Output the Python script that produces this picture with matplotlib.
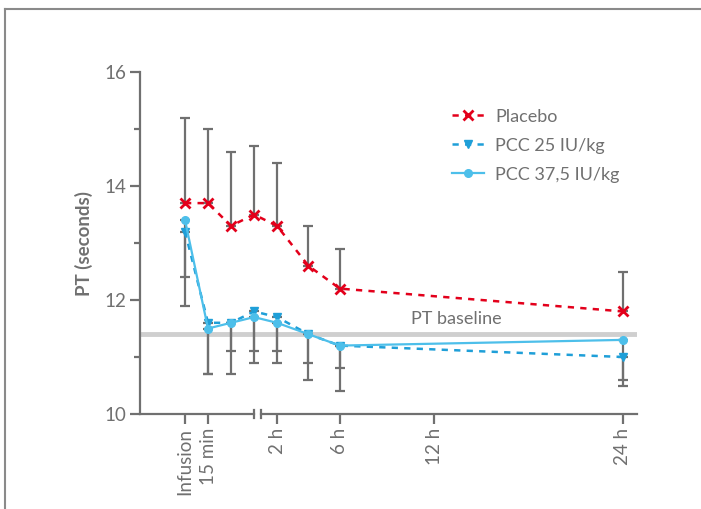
import numpy as np
import matplotlib.pyplot as plt
from matplotlib.lines import Line2D

plt.rcParams['font.family'] = ['Lato', 'DejaVu Sans']

# time points (hours)
hours = [0, 0.25, 0.5, 1, 2, 4, 6, 24]

placebo = [13.7, 13.7, 13.3, 13.5, 13.3, 12.6, 12.2, 11.8]
placebo_hi = [1.5, 1.3, 1.3, 1.2, 1.1, 0.7, 0.7, 0.7]

pcc25 = [13.2, 11.6, 11.6, 11.8, 11.7, 11.4, 11.2, 11.0]
pcc25_lo = [0.8, 0.9, 0.5, 0.7, 0.6, 0.5, 0.4, 0.4]

pcc375 = [13.4, 11.5, 11.6, 11.7, 11.6, 11.4, 11.2, 11.3]
pcc375_lo = [1.5, 0.8, 0.9, 0.8, 0.7, 0.8, 0.8, 0.8]

baseline = 11.4

tick_hours = [0, 0.25, 2, 6, 12, 24]
tick_labels = ['Infusion', '15 min', '2 h', '6 h', '12 h', '24 h']


def pos(h):
    # broken time axis: evenly spaced up to 2 h, linear after
    h = np.asarray(h, dtype=float)
    return np.interp(h, [0, 0.25, 0.5, 1, 2, 24], [0, 1, 2, 3, 4, 4 + 22 * 0.683])


GRAY = '#707070'
RED = '#e3001b'
BLUE = '#1f9fd8'
LBLUE = '#4dbfea'

fig = plt.figure(figsize=(7.01, 5.09), dpi=100)
ax = fig.add_axes([140 / 701, 1 - 414 / 509, 497 / 701, 342 / 509])

x = pos(hours)
ax.axhline(baseline, color='#cfcfcf', lw=3.5, zorder=1)
ax.text(pos(13.4), baseline + 0.12, 'PT baseline', color=GRAY, fontsize=13,
        ha='center', va='bottom')

ekw = dict(ecolor=GRAY, elinewidth=1.6, capsize=3.5, capthick=1.6, zorder=2)
ax.errorbar(x, placebo, yerr=[np.zeros(len(x)), placebo_hi], fmt='none', **ekw)
ax.errorbar(x, pcc25, yerr=[pcc25_lo, np.zeros(len(x))], fmt='none', **ekw)
ax.errorbar(x, pcc375, yerr=[pcc375_lo, np.zeros(len(x))], fmt='none', **ekw)

ax.plot(x, placebo, color=RED, ls=(0, (2.5, 2.5)), lw=1.8, marker='x', ms=7, mew=2,
        label='Placebo', zorder=3)
ax.plot(x, pcc25, color=BLUE, ls=(0, (2.5, 2.5)), lw=1.8, marker='v', ms=5.5,
        label='PCC 25 IU/kg', zorder=3)
ax.plot(x, pcc375, color=LBLUE, lw=1.6, marker='o', ms=5.5,
        label='PCC 37,5 IU/kg', zorder=4)

ax.set_xlim(-1.957, 19.65)
ax.set_ylim(10, 16)
ax.set_yticks([10, 12, 14, 16])
ax.set_yticks([11, 13, 15], minor=True)
ax.set_xticks(pos(tick_hours))
ax.set_xticklabels(tick_labels, rotation=90)

for s in ['top', 'right', 'bottom']:
    ax.spines[s].set_visible(False)
ax.spines['left'].set_color(GRAY)
ax.spines['left'].set_linewidth(1.6)
ax.tick_params(axis='both', colors=GRAY, labelcolor=GRAY, width=1.6, labelsize=13.5)
ax.tick_params(axis='y', which='major', length=7, pad=3)
ax.tick_params(axis='y', which='minor', length=4, width=1.6, colors=GRAY)
ax.tick_params(axis='x', length=7, pad=3)
ax.set_ylabel('PT (seconds)', color=GRAY, fontsize=13.5, fontweight='bold', labelpad=8)

# bottom axis with break
b0, b1 = 3.0, 3.3
ax.plot([-1.957, b0], [10, 10], color=GRAY, lw=1.6, clip_on=False, zorder=5)
ax.plot([b1, 19.65], [10, 10], color=GRAY, lw=1.6, clip_on=False, zorder=5)
for bx in (b0, b1):
    ax.plot([bx, bx], [9.93, 10.07], color=GRAY, lw=1.6, clip_on=False, zorder=5)

leg = ax.legend(loc='upper left', bbox_to_anchor=(0.595, 0.94), frameon=False,
                fontsize=13, handlelength=1.8, handletextpad=0.6, labelspacing=0.72)
for t in leg.get_texts():
    t.set_color(GRAY)

# outer frame
fig.add_artist(Line2D([4.5 / 701, 4.5 / 701], [0, 1 - 9 / 509], color='#8a8a8a', lw=1.5))
fig.add_artist(Line2D([4.5 / 701, 1], [1 - 9 / 509, 1 - 9 / 509], color='#8a8a8a', lw=1.5))

fig.savefig('out.png', dpi=100)
